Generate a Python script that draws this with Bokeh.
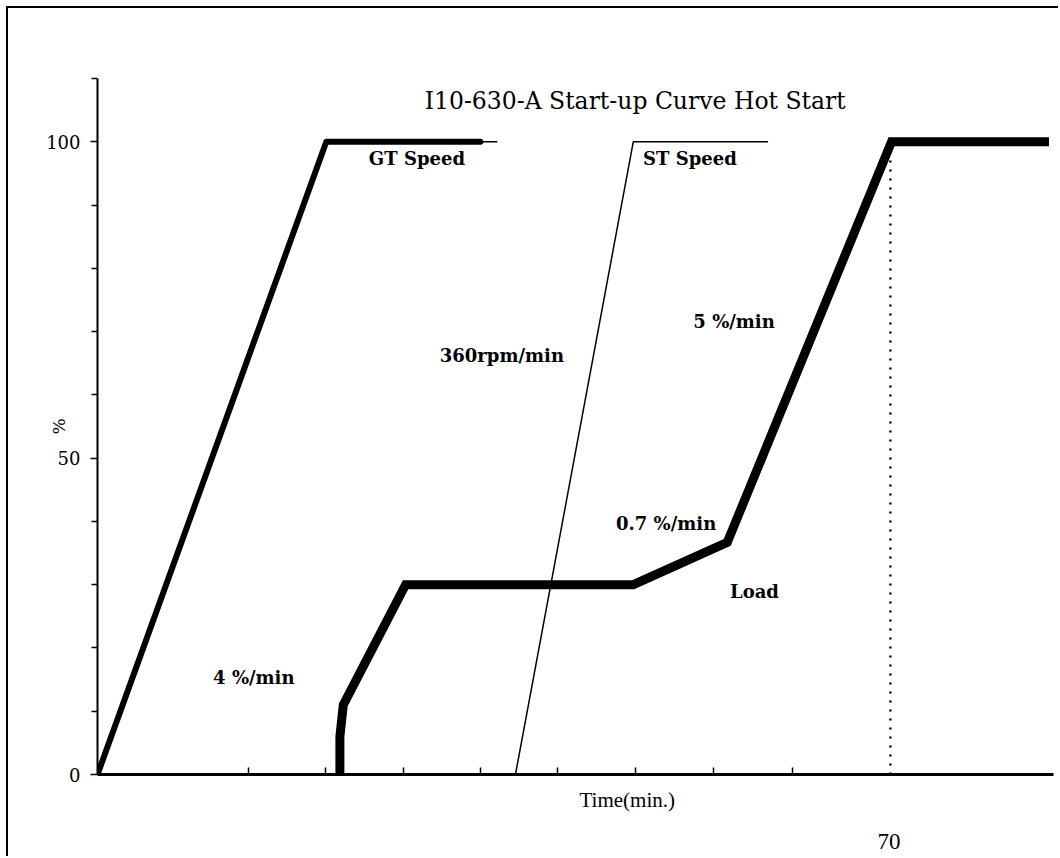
from bokeh.plotting import figure
from bokeh.models import Range1d, FixedTicker, Label, Title
from bokeh.embed import file_html
from bokeh.resources import INLINE

# ---- data (minutes vs %) ----
gt_x = [0.0, 20.2, 33.8]
gt_y = [0, 100, 100]
gt_tail_x = [33.8, 35.3]
gt_tail_y = [100, 100]

st_x = [36.9, 47.3, 59.2]
st_y = [0, 100, 100]

load_x = [21.4, 21.4, 21.7, 27.2, 47.3, 55.6, 70.1, 84.0]
load_y = [0, 6, 11, 30, 30, 36.7, 100, 100]

marker_x = [70.0, 70.0]
marker_y = [0, 99]

x_ticks = [13.3, 20.1, 27.0, 33.8, 40.6, 47.5, 54.4, 61.4]
y_major = [0, 50, 100]
y_minor = [10, 20, 30, 40, 60, 70, 80, 90, 110]

title_text = "I10-630-A  Start-up Curve Hot Start"
annotations = [
    ("GT Speed", 28.2, 97.4),
    ("ST Speed", 52.3, 97.4),
    ("360rpm/min", 35.7, 66.2),
    ("5 %/min", 56.2, 71.6),
    ("0.7 %/min", 50.2, 39.7),
    ("Load", 58.0, 28.9),
    ("4 %/min", 13.8, 15.3),
]

p = figure(width=1052, height=850, output_backend="svg", toolbar_location=None,
           x_range=Range1d(0, 84.4), y_range=Range1d(0, 110),
           min_border_left=89, min_border_right=7, min_border_top=70, min_border_bottom=84)
p.outline_line_color = None
p.xgrid.visible = False
p.ygrid.visible = False
p.background_fill_color = "white"
p.border_fill_color = "white"
p.styles = {"margin-left": "8px", "margin-top": "8px",
            "box-shadow": "-2px -2px 0 0 black"}

# x axis
xa = p.xaxis[0]
xa.ticker = FixedTicker(ticks=x_ticks)
xa.major_tick_in = 7
xa.major_tick_out = 0
xa.major_tick_line_width = 1.5
xa.minor_tick_line_color = None
xa.axis_line_width = 3
xa.major_label_text_font_size = "0px"
xa.major_label_text_color = None
xa.major_label_standoff = 0

# y axis
ya = p.yaxis[0]
ya.ticker = FixedTicker(ticks=y_major, minor_ticks=y_minor)
ya.major_tick_in = 0
ya.major_tick_out = 7
ya.minor_tick_in = 0
ya.minor_tick_out = 6
ya.major_tick_line_width = 1.5
ya.minor_tick_line_width = 1.5
ya.axis_line_width = 2
ya.major_label_text_font = "DejaVu Serif"
ya.major_label_text_font_size = "18px"
ya.major_label_text_color = "black"
ya.major_label_standoff = 10
ya.axis_label = "%"
ya.axis_label_text_font = "DejaVu Serif"
ya.axis_label_text_font_style = "normal"
ya.axis_label_text_font_size = "17px"
ya.axis_label_text_color = "black"
ya.axis_label_standoff = -26

# lines
p.line(gt_x, gt_y, line_width=6, color="black", line_join="round", line_cap="round")
p.line(gt_tail_x, gt_tail_y, line_width=1.5, color="black")
p.line(st_x, st_y, line_width=1.5, color="black")
p.line(load_x, load_y, line_width=9, color="black", line_join="miter")
p.line(marker_x, marker_y, line_width=2.4, color="black", line_dash="2 7")

# texts inside the frame
p.add_layout(Label(x=47.8, y=106.5, text=title_text, text_font="DejaVu Serif",
                   text_font_size="23.5px", text_align="center", text_baseline="middle",
                   text_color="black"))
for t, x, y in annotations:
    p.add_layout(Label(x=x, y=y, text=t, text_font="DejaVu Serif", text_font_style="bold",
                       text_font_size="18px", text_align="center", text_baseline="middle",
                       text_color="black"))

# texts below the axis
p.add_layout(Title(text="Time(min.)", align="left", offset=482, standoff=23,
                   text_font="Liberation Serif", text_font_style="normal",
                   text_font_size="21px", text_color="black"), "below")
p.add_layout(Title(text="70", align="left", offset=780, standoff=16,
                   text_font="Liberation Serif", text_font_style="normal",
                   text_font_size="23px", text_color="black"), "below")

open("out.html", "w").write(file_html(p, INLINE))
